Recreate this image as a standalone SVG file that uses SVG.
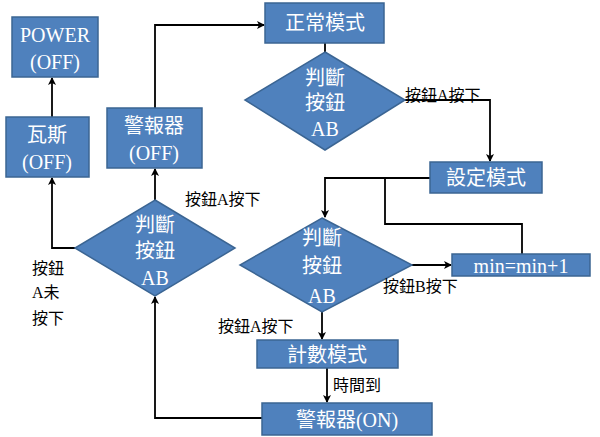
<svg xmlns="http://www.w3.org/2000/svg" width="600" height="437" viewBox="0 0 600 437">
<defs>
<marker id="a" markerWidth="8" markerHeight="8" refX="7" refY="4" orient="auto" markerUnits="userSpaceOnUse"><path d="M0,0 L8,4 L0,8 L2,4 Z" fill="#000"/></marker>
<style>
.n{fill:#4f81bd;stroke:#3b6593;stroke-width:1.5}
.t{fill:#fff;font-family:"Liberation Serif","Noto Sans CJK TC",serif;font-size:20px;text-anchor:middle}
.l{fill:#000;font-family:"Liberation Serif","Noto Sans CJK TC",serif;font-size:16px}
.c{fill:none;stroke:#000;stroke-width:1.8;marker-end:url(#a)}
.c2{fill:none;stroke:#000;stroke-width:1.8}
</style>
</defs>
<rect width="600" height="437" fill="#fff"/>
<g id="connectors">
<path class="c2" d="M325,43 V53"/>
<path class="c" d="M405,100 H490 V161"/>
<path class="c" d="M430,178 H325 V217"/>
<path class="c2" d="M385,178 V224 H522 V254"/>
<path class="c" d="M412,265 H451"/>
<path class="c" d="M322,312 V339"/>
<path class="c" d="M327,368 V402"/>
<path class="c" d="M262,418 H155 V297"/>
<path class="c" d="M155,200 V169"/>
<path class="c" d="M155,108 V25 H264"/>
<path class="c" d="M75,248 H52 V178"/>
<path class="c" d="M52,117 V78"/>
</g>
<g id="power"><rect class="n" x="12" y="17" width="86" height="60"/><text class="t" x="55" y="42">POWER</text><text class="t" x="55" y="69">(OFF)</text></g>
<g id="gas"><rect class="n" x="6" y="117" width="83" height="60"/><text class="t" x="47" y="142">瓦斯</text><text class="t" x="47" y="169">(OFF)</text></g>
<g id="alarmoff"><rect class="n" x="107" y="108" width="95" height="60"/><text class="t" x="154" y="133">警報器</text><text class="t" x="154" y="160">(OFF)</text></g>
<g id="normal"><rect class="n" x="265" y="3" width="119" height="40"/><text class="t" x="325" y="30">正常模式</text></g>
<g id="d1"><polygon class="n" points="325,52 405,100 325,150 245,100"/><text class="t" x="325" y="85">判斷</text><text class="t" x="325" y="110">按鈕</text><text class="t" x="325" y="136">AB</text></g>
<g id="setmode"><rect class="n" x="430" y="162" width="112" height="31"/><text class="t" x="486" y="185">設定模式</text></g>
<g id="d2"><polygon class="n" points="322,218 412,265 322,312 240,265"/><text class="t" x="322" y="245">判斷</text><text class="t" x="322" y="273">按鈕</text><text class="t" x="322" y="303">AB</text></g>
<g id="minbox"><rect class="n" x="452" y="254" width="138" height="22"/><text class="t" x="521" y="273">min=min+1</text></g>
<g id="count"><rect class="n" x="257" y="340" width="141" height="28"/><text class="t" x="327" y="362">計數模式</text></g>
<g id="alarmon"><rect class="n" x="262" y="403" width="170" height="32"/><text class="t" x="347" y="427">警報器(ON)</text></g>
<g id="d3"><polygon class="n" points="155,200 235,248 155,296 75,248"/><text class="t" x="155" y="232">判斷</text><text class="t" x="155" y="258">按鈕</text><text class="t" x="155" y="285">AB</text></g>
<g id="labels">
<text class="l" x="405" y="101">按鈕A按下</text>
<text class="l" x="185" y="205">按鈕A按下</text>
<text class="l" x="32" y="274">按鈕</text>
<text class="l" x="32" y="298">A未</text>
<text class="l" x="32" y="324">按下</text>
<text class="l" x="383" y="292">按鈕B按下</text>
<text class="l" x="218" y="332">按鈕A按下</text>
<text class="l" x="333" y="391">時間到</text>
</g>
</svg>
